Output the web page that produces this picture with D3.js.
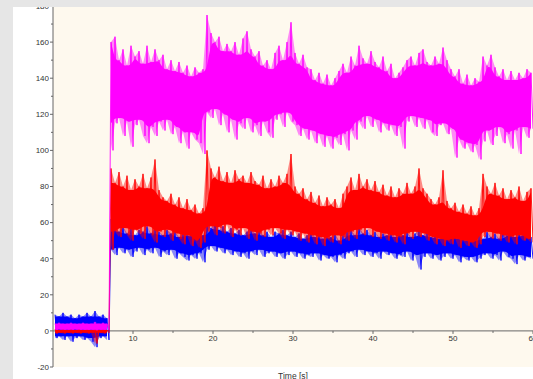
<!DOCTYPE html>
<html><head><meta charset="utf-8">
<script src="https://cdn.jsdelivr.net/npm/d3@7"></script>
<style>html,body{margin:0;padding:0;background:#e6e6e6;overflow:hidden}</style>
</head><body><svg id="c" width="533" height="379"></svg>
<script>
// sampling of envelope data (seconds)
const sampleStart = 0.25, sampleStep = 0.5;
const xMajorTicks = [10, 20, 30, 40, 50, 60];
const xMinorTicks = [5, 15, 25, 35, 45, 55];
const yMajorTicks = [-20, 0, 20, 40, 60, 80, 100, 120, 140, 160, 180];
const yMinorTicks = [-10, 10, 30, 50, 70, 90, 110, 130, 150, 170];
const xTitle = "Time [s]";

// envelope (upper / lower) of each trace per 0.5 s
const magentaHi = [4,4.5,4,4,4.5,4,4,4.5,4,4,5,4,4.5,4,
 160,163,150,156,147,158,152,155,148,158,
 149,156,150,153,145,150,144,149,143,147,
 141,146,143,145,175,165,160,163,155,159,
 155,160,153,162,166,156,152,155,147,150,
 145,154,158,150,160,171,154,148,153,146,
 145,139,143,137,142,136,140,144,148,143,
 152,147,158,151,148,155,149,146,152,144,
 148,140,143,146,150,152,147,154,156,149,
 147,152,148,157,150,145,141,145,137,142,
 136,140,138,152,147,153,146,141,145,139,
 144,139,143,140,145,143];
const magentaLo = [0.5,0.8,0.5,0.6,0.5,0.8,0.5,0.6,0.5,0.7,0.3,0.6,0.5,0.6,
 100,115,118,108,116,102,114,117,108,104,
 113,108,116,111,117,109,113,104,110,101,
 110,106,104,98,121,118,123,114,120,110,
 117,106,115,112,118,110,114,108,116,110,
 107,117,120,113,121,116,114,108,112,106,
 111,104,109,102,108,101,107,103,109,100,
 111,106,116,112,119,113,117,110,115,111,
 114,108,113,101,116,119,113,118,112,117,
 110,108,114,115,109,112,96,106,101,104,
 99,103,95,105,111,103,108,113,104,109,
 101,111,98,113,107,112];
const redHi = [1,0.5,1,0.5,1,0.5,1,0.5,1,0.5,1,0.5,1,0.5,
 90,82,88,80,86,78,84,80,87,79,
 85,95,78,74,72,76,70,74,68,73,
 67,70,65,68,100,90,85,91,83,88,
 82,89,84,86,82,88,83,81,86,79,
 84,80,86,82,87,98,80,76,79,73,
 77,71,75,69,74,70,73,68,76,80,
 85,78,87,80,84,78,83,77,81,75,
 80,74,79,76,82,76,80,90,79,76,
 73,70,74,89,72,68,71,66,70,65,
 69,64,68,87,80,76,82,75,79,73,
 78,74,80,72,77,79];
const redLo = [-1.5,-1,-1.5,-1,-1.5,-1,-1.5,-1,-1.5,-1,-7,-1,-1.5,-1,
 45,55,52,57,53,50,56,54,51,58,
 53,49,55,52,56,50,54,51,48,53,
 47,50,46,49,55,58,53,57,54,59,
 52,56,53,57,51,55,50,54,52,56,
 53,57,54,51,56,53,55,50,54,49,
 53,48,52,47,51,49,53,48,52,50,
 55,51,56,53,57,52,55,51,54,50,
 53,49,52,48,54,51,55,52,54,50,
 52,48,51,47,50,48,51,46,50,47,
 49,46,48,52,55,51,54,50,53,49,
 52,48,53,50,51,49];
const blueHi = [9,8,10,8,9,7,9,8,10,8,11,8,9,7,
 62,57,55,58,54,57,53,56,55,58,
 54,57,55,53,56,54,55,52,54,53,
 55,52,54,53,60,57,62,56,58,55,
 57,54,56,53,55,57,54,56,53,55,
 52,55,54,56,53,55,52,54,51,53,
 55,52,54,51,53,52,54,50,53,55,
 56,53,58,54,56,53,55,52,54,53,
 55,52,56,53,55,52,54,56,53,55,
 52,54,51,53,55,52,54,51,53,50,
 52,50,53,51,55,52,54,51,58,53,
 55,52,56,53,54,52];
const blueLo = [-4,-3,-5,-3,-6,-4,-3,-5,-4,-6,-9,-4,-3,-5,
 45,42,46,43,45,41,44,46,42,45,
 43,46,41,44,42,45,40,43,41,39,
 42,40,43,38,45,47,44,46,43,45,
 42,44,41,43,40,44,42,45,41,43,
 44,41,43,40,42,44,41,43,40,42,
 41,43,39,42,40,41,38,42,40,43,
 44,41,45,42,44,41,43,40,44,42,
 43,40,42,41,44,39,42,34,41,43,
 40,42,39,41,43,40,42,38,41,39,
 41,38,40,42,43,40,42,39,44,41,
 40,37,42,39,41,40];

const traces = [
  {name: "blue", hi: blueHi, lo: blueLo, color: "#0000ff"},
  {name: "red", hi: redHi, lo: redLo, color: "#ff0000"},
  {name: "magenta", hi: magentaHi, lo: magentaLo, color: "#ff00ff"}
];

const svg = d3.select("#c");
const W = 533, H = 379;
const x = d3.scaleLinear().domain([0, 60]).range([53, 533]);
const y = d3.scaleLinear().domain([-20, 180]).range([367, 6]);

// panels
svg.append("rect").attr("x", 0).attr("y", 0).attr("width", W).attr("height", H).attr("fill", "#ffffff");
svg.append("rect").attr("x", x(0)).attr("y", 7).attr("width", x(60) - x(0)).attr("height", y(-20) - 7).attr("fill", "#fef9ee");

const axisColor = "#666666", textColor = "#333333";
const font = "'Liberation Sans', Arial, sans-serif";

// x axis at y = 0
const xAxisG = svg.append("g").attr("transform", `translate(0,${y(0)})`);
xAxisG.append("line").attr("x1", x(0)).attr("x2", x(60)).attr("stroke", axisColor).attr("stroke-width", 1);
xAxisG.selectAll("line.maj").data(xMajorTicks).enter().append("line")
  .attr("x1", d => x(d)).attr("x2", d => x(d)).attr("y1", 0).attr("y2", 3)
  .attr("stroke", axisColor);
xAxisG.selectAll("line.min").data(xMinorTicks).enter().append("line")
  .attr("x1", d => x(d)).attr("x2", d => x(d)).attr("y1", 0).attr("y2", 2)
  .attr("stroke", axisColor);
xAxisG.selectAll("text").data(xMajorTicks).enter().append("text")
  .attr("x", d => x(d)).attr("y", 10).attr("text-anchor", "middle")
  .attr("font-family", font).attr("font-size", 8).attr("fill", textColor)
  .text(d => d);

// y axis
const yAxisG = svg.append("g");
yAxisG.append("line").attr("x1", x(0)).attr("x2", x(0)).attr("y1", 7).attr("y2", y(-20)).attr("stroke", axisColor);
yAxisG.selectAll("line.maj").data(yMajorTicks).enter().append("line")
  .attr("x1", x(0) - 3).attr("x2", x(0)).attr("y1", d => y(d)).attr("y2", d => y(d)).attr("stroke", axisColor);
yAxisG.selectAll("line.min").data(yMinorTicks).enter().append("line")
  .attr("x1", x(0) - 2).attr("x2", x(0)).attr("y1", d => y(d)).attr("y2", d => y(d)).attr("stroke", axisColor);
yAxisG.selectAll("text").data(yMajorTicks).enter().append("text")
  .attr("x", 49).attr("y", d => y(d) + 2.8).attr("text-anchor", "end")
  .attr("font-family", font).attr("font-size", 8).attr("fill", textColor)
  .text(d => d);

// axis title
svg.append("text").attr("x", (x(0) + x(60)) / 2).attr("y", 378.5).attr("text-anchor", "middle")
  .attr("font-family", font).attr("font-size", 8.5).attr("fill", textColor).text(xTitle);

// traces: pale envelope + solid core (rolling extremes) + hairline zigzag
svg.append("clipPath").attr("id", "plotclip").append("rect")
  .attr("x", x(0) + 1).attr("y", 7).attr("width", x(60) - x(0)).attr("height", y(-20) - 7);
const envArea = d3.area().x(d => x(d.t)).y0(d => y(d.lo)).y1(d => y(d.hi));
const coreArea = d3.area().curve(d3.curveBasis)
  .x(d => x(d.t)).y0(d => y(d.clo)).y1(d => y(d.chi));
const hair = d3.line().x(d => x(d[0])).y(d => y(d[1]));
const traceG = svg.append("g").attr("clip-path", "url(#plotclip)");
const win = 1;
traces.forEach(tr => {
  const rows = tr.hi.map((h, i) => ({t: sampleStart + i * sampleStep, hi: h, lo: tr.lo[i]}));
  // split where the signal jumps (the step near 7 s)
  const segments = [[rows[0]]];
  for (let i = 1; i < rows.length; i++) {
    if (Math.abs(rows[i].hi - rows[i - 1].hi) > 40) segments.push([]);
    segments[segments.length - 1].push(rows[i]);
  }
  segments.forEach(seg => seg.forEach((r, i) => {
    const nb = seg.slice(Math.max(0, i - win), Math.min(seg.length, i + win + 1));
    r.chi = d3.min(nb, d => d.hi);
    r.clo = d3.max(nb, d => d.lo);
  }));
  const g = traceG.append("g");
  segments.forEach(seg => {
    g.append("path").datum(seg).attr("d", envArea).attr("fill", tr.color).attr("fill-opacity", 0.45);
    g.append("path").datum(seg).attr("d", coreArea).attr("fill", tr.color);
  });
  const pts = [];
  rows.forEach(r => { pts.push([r.t, r.hi]); pts.push([r.t + sampleStep / 2, r.lo]); });
  g.append("path").datum(pts).attr("d", hair)
    .attr("fill", "none").attr("stroke", tr.color).attr("stroke-width", 0.9);
});

// outer gray frame
svg.append("rect").attr("x", 0).attr("y", 0).attr("width", W).attr("height", 7).attr("fill", "#e6e6e6");
svg.append("rect").attr("x", 0).attr("y", 0).attr("width", 13).attr("height", H).attr("fill", "#e6e6e6");
</script>
</body></html>
